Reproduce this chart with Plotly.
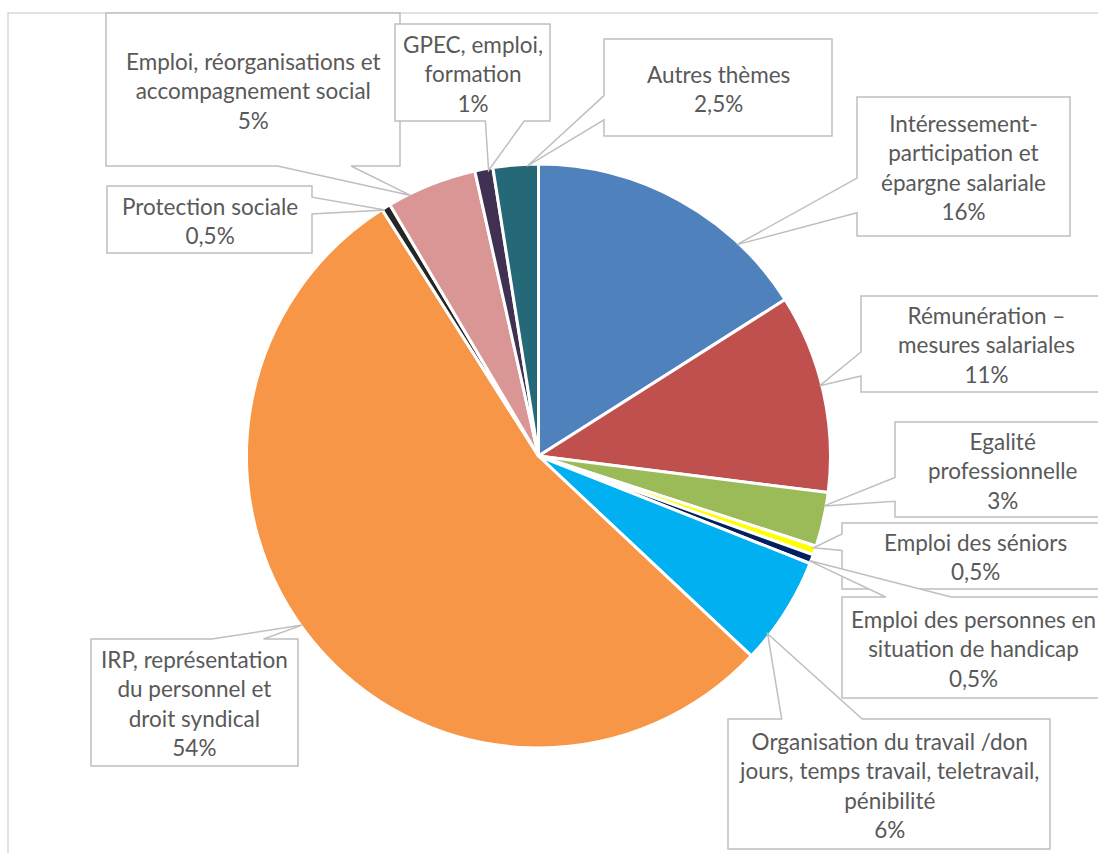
import math
import plotly.graph_objects as go

# ---- data ----
categories = [
    "Intéressement-<br>participation et<br>épargne salariale",
    "Rémunération –<br>mesures salariales",
    "Egalité<br>professionnelle",
    "Emploi des séniors",
    "Emploi des personnes en<br>situation de handicap",
    "Organisation du travail /don<br>jours, temps travail, teletravail,<br>pénibilité",
    "IRP, représentation<br>du personnel et<br>droit syndical",
    "Protection sociale",
    "Emploi, réorganisations et<br>accompagnement social",
    "GPEC, emploi,<br>formation",
    "Autres thèmes",
]
values = [16, 11, 3, 0.5, 0.5, 6, 54, 0.5, 5, 1, 2.5]
pct_labels = ["16%", "11%", "3%", "0,5%", "0,5%", "6%", "54%", "0,5%", "5%", "1%", "2,5%"]
colors = ["#4F81BD", "#C0504D", "#9BBB59", "#FFFF00", "#002060", "#00B0F0",
          "#F79646", "#262626", "#D99694", "#403152", "#256978"]

# ---- layout (page pixel coordinates) ----
W, H = 1098, 853
CX, CY, R = 538.5, 456.0, 292.0
boxes = [
    (857, 97, 1070, 236),
    (861, 296, 1112, 392),
    (895, 422, 1109, 517),
    (842, 523, 1108, 589),
    (842, 597, 1104, 698),
    (728, 719, 1050, 849),
    (91, 639, 298, 766),
    (107, 186, 312, 253),
    (106, 13, 400, 166),
    (395, 24, 550, 121),
    (604, 39, 832, 136),
]

fig = go.Figure()
fig.add_trace(go.Pie(
    labels=[c.replace("<br>", " ") for c in categories],
    values=values,
    sort=False,
    direction="clockwise",
    rotation=0,
    marker=dict(colors=colors, line=dict(color="white", width=3)),
    textinfo="none",
    hoverinfo="label+percent",
    showlegend=False,
    domain=dict(x=[(CX - R) / W, (CX + R) / W],
                y=[1 - (CY + R) / H, 1 - (CY - R) / H]),
))


def callout_path(l, t, r, b, xt, yt):
    w, h = r - l, b - t
    hc, vc = (l + r) / 2, (t + b) / 2
    dx, dy = xt - hc, yt - vc
    dq = dx * h / w
    dz = abs(dy) - abs(dq)
    x1 = l + w * (7 if dx > 0 else 2) / 12
    x2 = l + w * (10 if dx > 0 else 5) / 12
    y1 = t + h * (7 if dy > 0 else 2) / 12
    y2 = t + h * (10 if dy > 0 else 5) / 12
    if dz > 0:
        side = "top" if dy < 0 else "bottom"
    else:
        side = "left" if dx < 0 else "right"
    pts = [(l, t), (x1, t)]
    if side == "top":
        pts.append((xt, yt))
    pts += [(x2, t), (r, t), (r, y1)]
    if side == "right":
        pts.append((xt, yt))
    pts += [(r, y2), (r, b), (x2, b)]
    if side == "bottom":
        pts.append((xt, yt))
    pts += [(x1, b), (l, b), (l, y2)]
    if side == "left":
        pts.append((xt, yt))
    pts += [(l, y1)]
    return "M " + " L ".join(f"{x:.1f},{y:.1f}" for x, y in pts) + " Z"


shapes = [dict(type="rect", xref="x", yref="y", x0=8, y0=13, x1=W + 30, y1=H + 30,
               line=dict(color="#D9D9D9", width=1.5), fillcolor="rgba(0,0,0,0)", layer="below")]
annotations = []
total = sum(values)
cum = 0.0
rt = R - 2
for i, v in enumerate(values):
    a0 = cum / total * 360
    a1 = (cum + v) / total * 360
    cum += v
    mid = (a0 + a1) / 2
    half = (a1 - a0) / 2
    l, t, r, b = boxes[i]
    bx, by = (l + r) / 2, (t + b) / 2
    ang = math.degrees(math.atan2(bx - CX, CY - by))
    d = (ang - mid + 180) % 360 - 180
    lim = half * 0.5
    d = max(-lim, min(lim, d))
    ta = math.radians(mid + d)
    xt = CX + rt * math.sin(ta)
    yt = CY - rt * math.cos(ta)
    shapes.append(dict(type="path", xref="x", yref="y", path=callout_path(l, t, r, b, xt, yt),
                       line=dict(color="#BFBFBF", width=1.5), fillcolor="white", layer="above"))
    annotations.append(dict(x=bx, y=by + 1, xref="x", yref="y", xanchor="center", yanchor="middle",
                            text=categories[i] + "<br>" + pct_labels[i], showarrow=False,
                            align="center", font=dict(family="Lato", size=22.5, color="#595959")))

fig.update_layout(
    width=W, height=H,
    margin=dict(l=0, r=0, t=0, b=0),
    paper_bgcolor="white", plot_bgcolor="white",
    xaxis=dict(range=[0, W], visible=False, fixedrange=True),
    yaxis=dict(range=[H, 0], visible=False, fixedrange=True),
    shapes=shapes,
    annotations=annotations,
)
fig.write_html("out.html",
               config={"displayModeBar": False},
               post_script="document.body.style.margin='0';document.body.style.overflow='hidden';")
